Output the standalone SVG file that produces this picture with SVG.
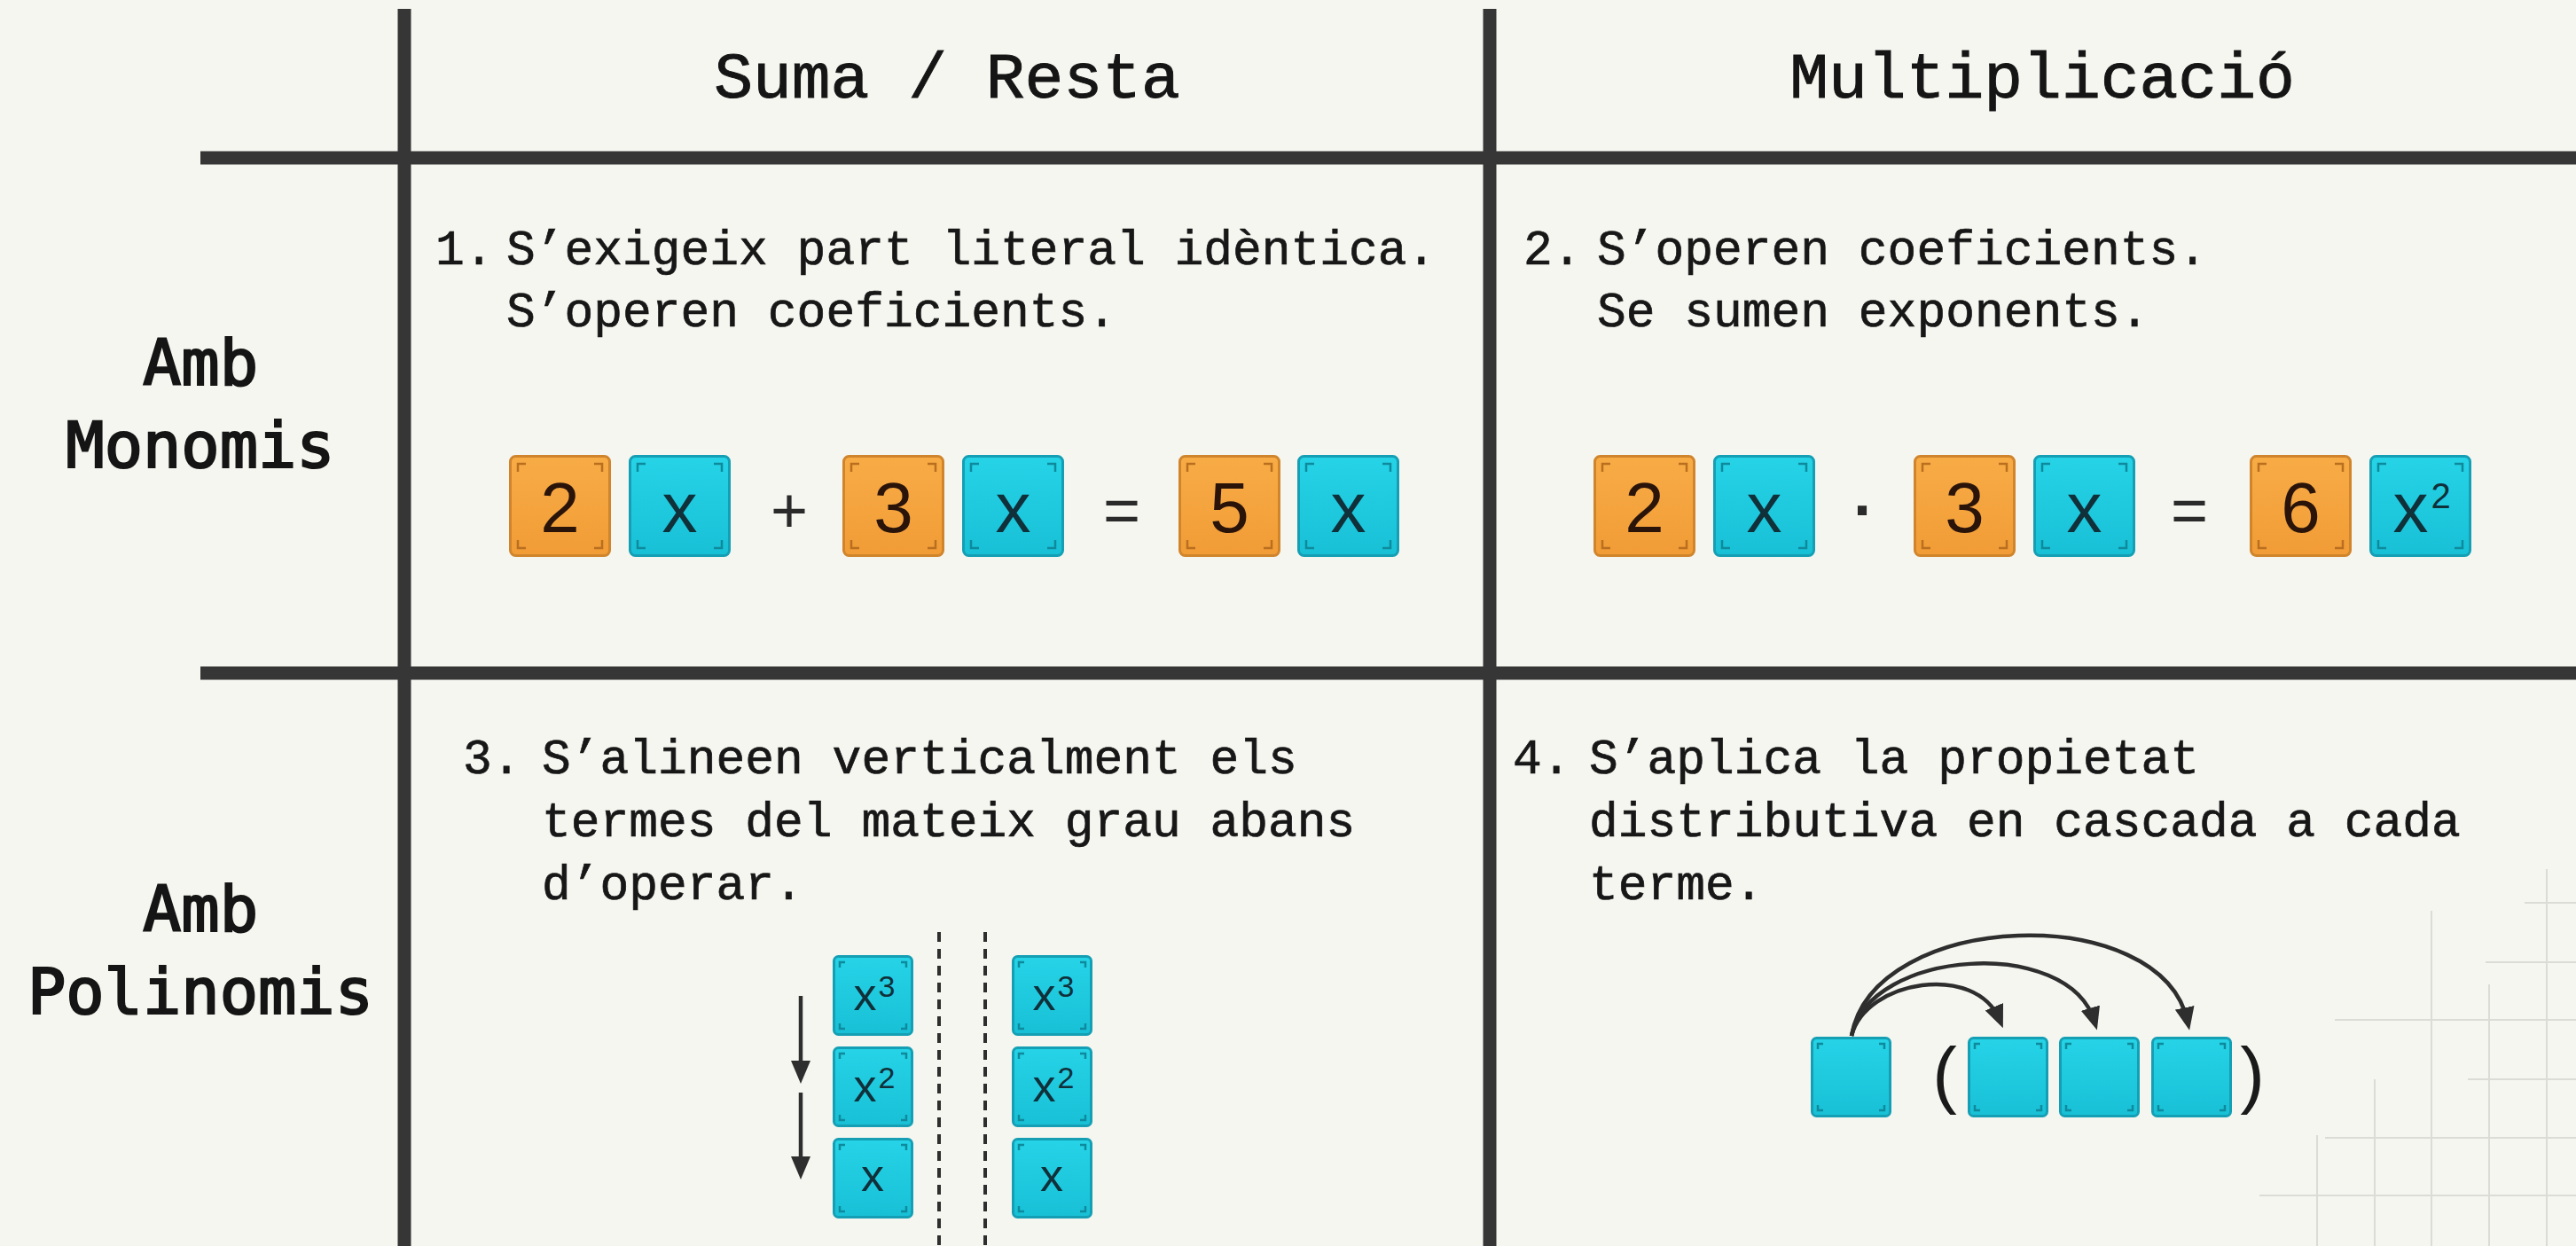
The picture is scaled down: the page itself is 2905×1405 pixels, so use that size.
<svg xmlns="http://www.w3.org/2000/svg" width="2905" height="1405" viewBox="0 0 2905 1405">
  <defs>
    <style>
      .rule{stroke:#363636;stroke-width:15;stroke-linecap:butt}
      .hdr{font-family:"Liberation Mono","DejaVu Sans Mono",monospace;font-size:73px;fill:#151515;stroke:#151515;stroke-width:1;text-anchor:middle}
      .row{font-family:"DejaVu Sans Mono",monospace;font-size:72px;fill:#151515;stroke:#151515;stroke-width:2.2;text-anchor:middle}
      .body{font-family:"Liberation Mono","DejaVu Sans Mono",monospace;font-size:54.6px;fill:#171717;stroke:#171717;stroke-width:0.7}
      .tt{font-family:"Liberation Sans",Arial,sans-serif;font-size:80px;text-anchor:middle}
      .ts{font-family:"Liberation Sans",Arial,sans-serif;font-size:52px;text-anchor:middle}
      .num{fill:#2a140a}
      .var{fill:#10303a}
      .op{font-family:"Liberation Sans",Arial,sans-serif;font-size:72px;fill:#2a2a2a;text-anchor:middle}
      .paren{font-family:"Liberation Sans",Arial,sans-serif;font-size:83px;fill:#1a1a1a;text-anchor:middle}
      .conn{fill:none;stroke:#2e2e2e;stroke-width:4.5}
      .dash{stroke:#2e2e2e;stroke-width:4;stroke-dasharray:11 8}
      .paper{stroke:#d2d2cd;stroke-width:2;opacity:.7}
    </style>
    <linearGradient id="gO" x1="0" y1="0" x2="0" y2="1">
      <stop offset="0" stop-color="#F8AC46"/>
      <stop offset="1" stop-color="#F19C36"/>
    </linearGradient>
    <linearGradient id="gC" x1="0" y1="0" x2="0" y2="1">
      <stop offset="0" stop-color="#26D3E7"/>
      <stop offset="1" stop-color="#18C0D6"/>
    </linearGradient>
    <!-- large coefficient tile -->
    <g id="tileOL">
      <rect x="1.5" y="1.5" width="112" height="112" rx="6" fill="url(#gO)" stroke="#D0852C" stroke-width="3"/>
      <path d="M10,19V10H19M96,10H105V19M105,96V105H96M19,105H10V96" fill="none" stroke="#B96F1F" stroke-width="2.5"/>
    </g>
    <!-- large variable tile -->
    <g id="tileCL">
      <rect x="1.5" y="1.5" width="112" height="112" rx="6" fill="url(#gC)" stroke="#159FB4" stroke-width="3"/>
      <path d="M10,19V10H19M96,10H105V19M105,96V105H96M19,105H10V96" fill="none" stroke="#0F8A9D" stroke-width="2.5"/>
    </g>
    <!-- small variable tile -->
    <g id="tileCS">
      <rect x="1.5" y="1.5" width="88" height="88" rx="5" fill="url(#gC)" stroke="#159FB4" stroke-width="3"/>
      <path d="M8,14V8H14M77,8H83V14M83,77V83H77M14,83H8V77" fill="none" stroke="#0F8A9D" stroke-width="2.5"/>
    </g>
    <marker id="ah" viewBox="0 0 26 22" refX="16" refY="11" markerWidth="26" markerHeight="22" markerUnits="userSpaceOnUse" orient="auto">
      <path d="M0,0L26,11L0,22z" fill="#2e2e2e"/>
    </marker>
  </defs>

  <rect width="2905" height="1405" fill="#F6F6F1"/>

  <!-- faint paper grid, lower right -->
  <g id="paper-grid" class="paper">
    <line x1="2613" y1="1280" x2="2613" y2="1405"/>
    <line x1="2678" y1="1217" x2="2678" y2="1405"/>
    <line x1="2742" y1="1027" x2="2742" y2="1405"/>
    <line x1="2807" y1="1110" x2="2807" y2="1405"/>
    <line x1="2872" y1="980" x2="2872" y2="1405"/>
    <line x1="2847" y1="1018" x2="2905" y2="1018"/>
    <line x1="2803" y1="1085" x2="2905" y2="1085"/>
    <line x1="2633" y1="1150" x2="2905" y2="1150"/>
    <line x1="2783" y1="1217" x2="2905" y2="1217"/>
    <line x1="2622" y1="1283" x2="2905" y2="1283"/>
    <line x1="2548" y1="1348" x2="2905" y2="1348"/>
  </g>

  <!-- table rules -->
  <g id="table-rules" class="rule">
    <line x1="456" y1="10" x2="456" y2="1405"/>
    <line x1="1680" y1="10" x2="1680" y2="1405"/>
    <line x1="226" y1="178" x2="2905" y2="178"/>
    <line x1="226" y1="759" x2="2905" y2="759"/>
  </g>

  <!-- column headers -->
  <g id="hdr-suma"><text class="hdr" x="1068" y="110">Suma / Resta</text></g>
  <g id="hdr-mult"><text class="hdr" x="2303" y="110">Multiplicació</text></g>

  <!-- row headers -->
  <g id="row-monomis">
    <text class="row" x="226" y="434">Amb</text>
    <text class="row" x="226" y="527">Monomis</text>
  </g>
  <g id="row-polinomis">
    <text class="row" x="226" y="1050">Amb</text>
    <text class="row" x="226" y="1143">Polinomis</text>
  </g>

  <!-- cell 1: sum of monomials -->
  <g id="cell1">
    <g id="cell1-text">
      <text class="body" x="491" y="298">1.</text>
      <text class="body" x="571" y="298">S’exigeix part literal idèntica.</text>
      <text class="body" x="571" y="368">S’operen coeficients.</text>
    </g>
    <g id="c1-t1"><use href="#tileOL" x="574" y="513"/><text class="tt num" x="631.5" y="600">2</text></g>
    <g id="c1-t2"><use href="#tileCL" x="709" y="513"/><text class="tt var" x="766.5" y="600">x</text></g>
    <text class="op" x="890" y="600">+</text>
    <g id="c1-t3"><use href="#tileOL" x="950" y="513"/><text class="tt num" x="1007.5" y="600">3</text></g>
    <g id="c1-t4"><use href="#tileCL" x="1085" y="513"/><text class="tt var" x="1142.5" y="600">x</text></g>
    <text class="op" x="1265" y="600">=</text>
    <g id="c1-t5"><use href="#tileOL" x="1329" y="513"/><text class="tt num" x="1386.5" y="600">5</text></g>
    <g id="c1-t6"><use href="#tileCL" x="1463" y="513"/><text class="tt var" x="1520.5" y="600">x</text></g>
  </g>

  <!-- cell 2: product of monomials -->
  <g id="cell2">
    <g id="cell2-text">
      <text class="body" x="1718" y="298">2.</text>
      <text class="body" x="1801" y="298">S’operen coeficients.</text>
      <text class="body" x="1801" y="368">Se sumen exponents.</text>
    </g>
    <g id="c2-t1"><use href="#tileOL" x="1797" y="513"/><text class="tt num" x="1854.5" y="600">2</text></g>
    <g id="c2-t2"><use href="#tileCL" x="1932" y="513"/><text class="tt var" x="1989.5" y="600">x</text></g>
    <text class="op" x="2102" y="600" font-size="80" font-weight="bold">·</text>
    <g id="c2-t3"><use href="#tileOL" x="2158" y="513"/><text class="tt num" x="2215.5" y="600">3</text></g>
    <g id="c2-t4"><use href="#tileCL" x="2293" y="513"/><text class="tt var" x="2350.5" y="600">x</text></g>
    <text class="op" x="2469" y="600">=</text>
    <g id="c2-t5"><use href="#tileOL" x="2537" y="513"/><text class="tt num" x="2594.5" y="600">6</text></g>
    <g id="c2-t6"><use href="#tileCL" x="2672" y="513"/><text class="tt var" x="2731" y="600">x<tspan dx="3" dy="-27" font-size="40">2</tspan></text></g>
  </g>

  <!-- cell 3: sum of polynomials -->
  <g id="cell3">
    <g id="cell3-text">
      <text class="body" x="522" y="872">3.</text>
      <text class="body" x="611" y="872">S’alineen verticalment els</text>
      <text class="body" x="611" y="943">termes del mateix grau abans</text>
      <text class="body" x="611" y="1014">d’operar.</text>
    </g>
    <g id="c3-l1"><use href="#tileCS" x="939" y="1077"/><text class="ts var" x="986" y="1139">x<tspan dx="2" dy="-15" font-size="34">3</tspan></text></g>
    <g id="c3-l2"><use href="#tileCS" x="939" y="1180"/><text class="ts var" x="986" y="1242">x<tspan dx="2" dy="-15" font-size="34">2</tspan></text></g>
    <g id="c3-l3"><use href="#tileCS" x="939" y="1283"/><text class="ts var" x="984" y="1343">x</text></g>
    <g id="c3-r1"><use href="#tileCS" x="1141" y="1077"/><text class="ts var" x="1188" y="1139">x<tspan dx="2" dy="-15" font-size="34">3</tspan></text></g>
    <g id="c3-r2"><use href="#tileCS" x="1141" y="1180"/><text class="ts var" x="1188" y="1242">x<tspan dx="2" dy="-15" font-size="34">2</tspan></text></g>
    <g id="c3-r3"><use href="#tileCS" x="1141" y="1283"/><text class="ts var" x="1186" y="1343">x</text></g>
    <g id="c3-guides">
      <line class="dash" x1="1059" y1="1051" x2="1059" y2="1405"/>
      <line class="dash" x1="1111" y1="1051" x2="1111" y2="1405"/>
    </g>
  </g>

  <!-- cell 4: product of polynomials -->
  <g id="cell4">
    <g id="cell4-text">
      <text class="body" x="1706" y="872">4.</text>
      <text class="body" x="1792" y="872">S’aplica la propietat</text>
      <text class="body" x="1792" y="943">distributiva en cascada a cada</text>
      <text class="body" x="1792" y="1014">terme.</text>
    </g>
    <g id="c4-a"><use href="#tileCS" x="2042" y="1169"/></g>
    <text class="paren" x="2193" y="1240">(</text>
    <g id="c4-b"><use href="#tileCS" x="2219" y="1169"/></g>
    <g id="c4-c"><use href="#tileCS" x="2322" y="1169"/></g>
    <g id="c4-d"><use href="#tileCS" x="2426" y="1169"/></g>
    <text class="paren" x="2540" y="1240">)</text>
  </g>

  <!-- connectors -->
  <g id="connectors">
    <path class="conn" d="M903,1123V1212" marker-end="url(#ah)"/>
    <path class="conn" d="M903,1232V1320" marker-end="url(#ah)"/>
    <path class="conn" d="M2088,1168C2104,1105 2228,1085 2255,1150" marker-end="url(#ah)"/>
    <path class="conn" d="M2088,1168C2108,1070 2333,1055 2362,1152" marker-end="url(#ah)"/>
    <path class="conn" d="M2088,1168C2113,1025 2438,1015 2467,1152" marker-end="url(#ah)"/>
  </g>
</svg>
